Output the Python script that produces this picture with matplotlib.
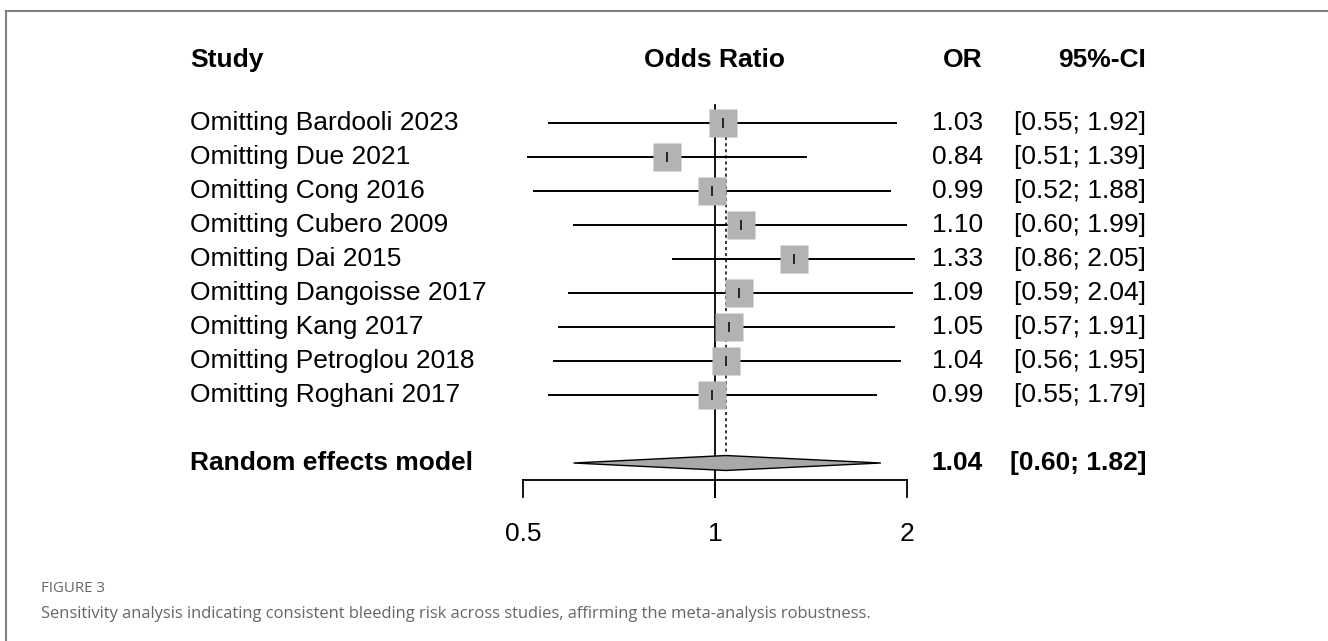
import numpy as np
import matplotlib
matplotlib.use("Agg")
import matplotlib.pyplot as plt
from matplotlib.patches import Polygon
from matplotlib.transforms import blended_transform_factory

# data
studies = ["Omitting Bardooli 2023", "Omitting Due 2021", "Omitting Cong 2016",
           "Omitting Cubero 2009", "Omitting Dai 2015", "Omitting Dangoisse 2017",
           "Omitting Kang 2017", "Omitting Petroglou 2018", "Omitting Roghani 2017"]
odds = [1.03, 0.84, 0.99, 1.10, 1.33, 1.09, 1.05, 1.04, 0.99]
lower = [0.55, 0.51, 0.52, 0.60, 0.86, 0.59, 0.57, 0.56, 0.55]
upper = [1.92, 1.39, 1.88, 1.99, 2.05, 2.04, 1.91, 1.95, 1.79]
model_label = "Random effects model"
model_or = 1.04
model_lo = 0.60
model_hi = 1.82
xticks = [0.5, 1, 2]
xtick_labels = ["0.5", "1", "2"]

W, H = 1328, 641
fig = plt.figure(figsize=(W / 100, H / 100), dpi=100)
plt.rcParams['font.family'] = ['Liberation Sans', 'DejaVu Sans']

# one axes over the whole figure; log x so that 0.5 -> 524 px, 1 -> 715 px, 2 -> 908 px
ax = fig.add_axes([0, 0, 1, 1])
ax.set_xscale('log')
px_per_log2 = 192.0
x1_px = 715.0
ax.set_xlim(2 ** ((0 - x1_px) / px_per_log2), 2 ** ((W - x1_px) / px_per_log2))
# rows are 34 px apart, first row at y=123 px
row0_px, row_px = 123.0, 34.0
ax.set_ylim((H - row0_px) / row_px, (0 - row0_px) / row_px)
ax.axis('off')

fs = 19
grey_sq = '#b3b3b3'
n = len(studies)
y = np.arange(n)
y_model = n + 1

trans = blended_transform_factory(fig.transFigure, ax.transData)
def fx(px):
    return px / W

# reference lines
ax.plot([1, 1], [-0.53, y_model + 1.0], color='black', lw=1.3, zorder=1)
ax.plot([model_or, model_or], [0.42, y_model - 0.27], color='black', lw=1.1,
        ls=(0, (2, 2)), zorder=1)

# study rows
for i in range(n):
    ax.plot([lower[i], upper[i]], [y[i], y[i]], color='black', lw=1.4, zorder=2)
ax.plot(odds, y, 's', ms=19.5, color=grey_sq, mec='none', zorder=3)
ax.plot(odds, y, '|', ms=7, color='black', mew=1.1, zorder=4)

# pooled estimate diamond
h = 0.22
diamond = Polygon([[model_lo, y_model], [model_or, y_model - h],
                   [model_hi, y_model], [model_or, y_model + h]],
                  closed=True, facecolor='#a8a8a8', edgecolor='black', lw=1.0, zorder=3)
ax.add_patch(diamond)

# x axis drawn by hand, forest-plot style
y_axis = y_model + 0.5
ax.plot([xticks[0], xticks[-1]], [y_axis, y_axis], color='black', lw=1.3)
for t, lab in zip(xticks, xtick_labels):
    ax.plot([t, t], [y_axis, y_axis + 0.5], color='black', lw=1.3)
    ax.text(t, y_axis + 1.6, lab, ha='center', va='center', fontsize=fs)

# headers
y_head = (60 - row0_px) / row_px
ax.text(fx(190), y_head, "Study", transform=trans, ha='left', va='center',
        fontsize=fs, fontweight='bold')
ax.text(1.0, y_head, "Odds Ratio", ha='center', va='center', fontsize=fs, fontweight='bold')
ax.text(fx(983), y_head, "OR", transform=trans, ha='right', va='center',
        fontsize=fs, fontweight='bold')
ax.text(fx(1146), y_head, "95%-CI", transform=trans, ha='right', va='center',
        fontsize=fs, fontweight='bold')

# row texts
for i in range(n):
    ax.text(fx(190), y[i], studies[i], transform=trans, ha='left', va='center', fontsize=fs)
    ax.text(fx(983), y[i], "%.2f" % odds[i], transform=trans, ha='right', va='center', fontsize=fs)
    ax.text(fx(1146), y[i], "[%.2f; %.2f]" % (lower[i], upper[i]), transform=trans,
            ha='right', va='center', fontsize=fs)
ax.text(fx(190), y_model, model_label, transform=trans, ha='left', va='center',
        fontsize=fs, fontweight='bold')
ax.text(fx(983), y_model, "%.2f" % model_or, transform=trans, ha='right', va='center',
        fontsize=fs, fontweight='bold')
ax.text(fx(1146), y_model, "[%.2f; %.2f]" % (model_lo, model_hi), transform=trans,
        ha='right', va='center', fontsize=fs, fontweight='bold')

# frame lines of the figure panel
fig.add_artist(plt.Line2D([fx(6), 1], [1 - 11 / H, 1 - 11 / H], color='#808080', lw=1.5))
fig.add_artist(plt.Line2D([fx(6), fx(6)], [0, 1 - 11 / H], color='#808080', lw=1.5))

# caption
fig.text(fx(41), 1 - 589 / H, "FIGURE 3", ha='left', va='center', fontsize=10.8,
         color='#666666', family='Open Sans')
fig.text(fx(41), 1 - 614 / H,
         "Sensitivity analysis indicating consistent bleeding risk across studies, "
         "affirming the meta-analysis robustness.",
         ha='left', va='center', fontsize=11.9, color='#666666', family='Open Sans')

fig.savefig("out.png", dpi=100)
